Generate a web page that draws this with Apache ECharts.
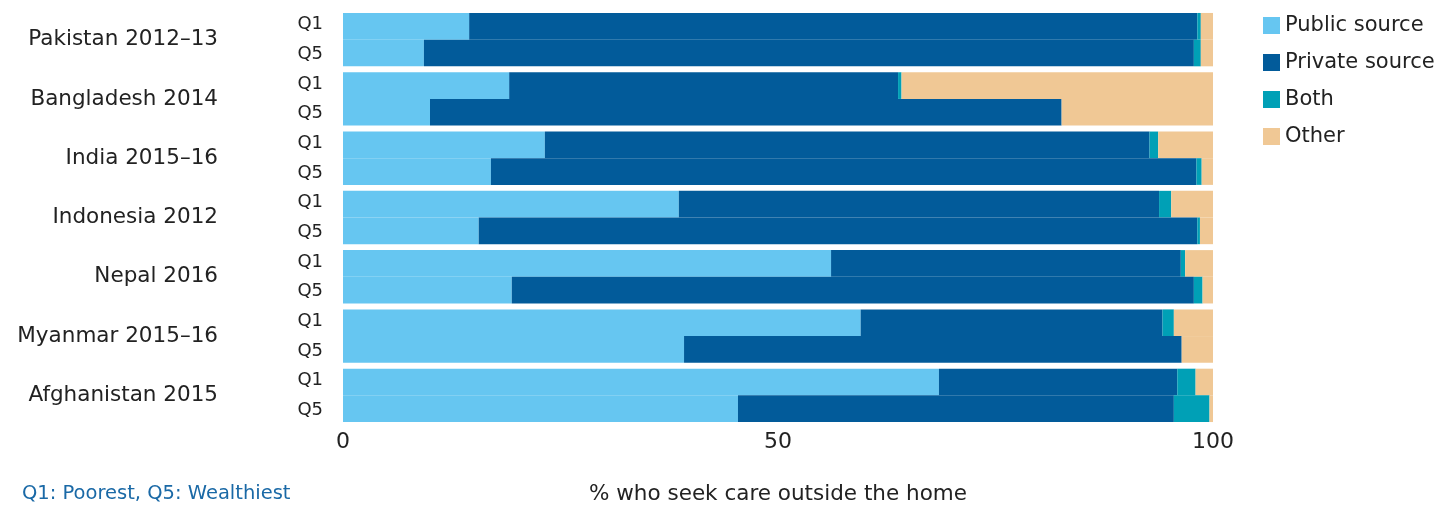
<!DOCTYPE html>
<html>
<head>
<meta charset="utf-8">
<script src="https://cdn.jsdelivr.net/npm/echarts@6/dist/echarts.min.js"></script>
<style>
  html, body { margin: 0; padding: 0; background: #fff; }
  #chart { width: 1441px; height: 506px; }
</style>
</head>
<body>
<div id="chart"></div>
<script>
// countries, top to bottom
const countries = ['Pakistan 2012–13', 'Bangladesh 2014', 'India 2015–16', 'Indonesia 2012',
  'Nepal 2016', 'Myanmar 2015–16', 'Afghanistan 2015'];
const quintiles = ['Q1', 'Q5'];

// % share by source, Q1 (poorest)
const publicQ1 = [14.5, 19.1, 23.2, 38.6, 56.1, 59.5, 68.5];
const privateQ1 = [83.7, 44.7, 69.5, 55.2, 40.2, 34.7, 27.4];
const bothQ1 = [0.4, 0.4, 1.0, 1.4, 0.5, 1.3, 2.1];
const otherQ1 = [1.4, 35.8, 6.3, 4.8, 3.2, 4.5, 2.0];

// % share by source, Q5 (wealthiest)
const publicQ5 = [9.3, 10.0, 17.0, 15.6, 19.4, 39.2, 45.4];
const privateQ5 = [88.5, 72.6, 81.1, 82.6, 78.4, 57.2, 50.1];
const bothQ5 = [0.8, 0, 0.6, 0.3, 1.0, 0, 4.1];
const otherQ5 = [1.4, 17.4, 1.3, 1.5, 1.2, 3.6, 0.4];

const xTicks = [0, 50, 100];

const sources = ['Public source', 'Private source', 'Both', 'Other'];
const colors = ['#66c6f1', '#025b9a', '#00a0b6', '#f0c895'];

const chart = echarts.init(document.getElementById('chart'));
const FONT = 'DejaVu Sans';

const q1Data = [publicQ1, privateQ1, bothQ1, otherQ1];
const q5Data = [publicQ5, privateQ5, bothQ5, otherQ5];

let series = [];
// Q1 bars (upper in each group)
sources.forEach((name, i) => {
    series.push({
        name: name,
        type: 'bar',
        stack: 'Q1',
        data: q1Data[i],
        itemStyle: {color: colors[i]},
        barGap: '0%',
        barCategoryGap: '10%'
    });
});
// Q5 bars (lower in each group)
sources.forEach((name, i) => {
    series.push({
        name: name,
        type: 'bar',
        stack: 'Q5',
        data: q5Data[i],
        itemStyle: {color: colors[i]},
        barGap: '0%',
        barCategoryGap: '10%'
    });
});

// Q1 / Q5 labels for each row
let qLabels = [];
countries.forEach(() => {
    quintiles.forEach(q => qLabels.push(q));
});

chart.setOption({
    animation: false,
    textStyle: {fontFamily: FONT},
    color: colors,
    legend: {
        orient: 'vertical',
        left: 1258,
        top: 10,
        itemWidth: 17,
        itemHeight: 17,
        itemGap: 16,
        icon: 'rect',
        data: sources,
        textStyle: {fontSize: 21, color: '#222', fontFamily: FONT}
    },
    grid: {
        left: 343,
        right: 228,
        top: 10,
        bottom: 81,
        outerBoundsMode: 'none'
    },
    xAxis: {
        type: 'value',
        min: xTicks[0],
        max: xTicks[xTicks.length - 1],
        interval: 50,
        axisLine: {show: false},
        axisTick: {show: false},
        splitLine: {show: false},
        axisLabel: {fontSize: 22, color: '#222', margin: 6, fontFamily: FONT},
        name: '% who seek care outside the home',
        nameLocation: 'middle',
        nameGap: 58,
        nameTextStyle: {fontSize: 21.5, color: '#222', fontFamily: FONT}
    },
    yAxis: [
        {
            type: 'category',
            data: countries,
            inverse: true,
            axisLine: {show: false},
            axisTick: {show: false},
            axisLabel: {fontSize: 21.5, color: '#222', margin: 125, fontFamily: FONT}
        },
        {
            type: 'category',
            data: qLabels,
            inverse: true,
            position: 'left',
            axisLine: {show: false},
            axisTick: {show: false},
            axisLabel: {fontSize: 18, color: '#222', margin: 20, fontFamily: FONT}
        }
    ],
    graphic: [{
        type: 'text',
        left: 22,
        top: 484,
        style: {
            text: 'Q1: Poorest, Q5: Wealthiest',
            fill: '#1a69a6',
            fontSize: 19.5,
            fontFamily: FONT
        }
    }],
    series: series
});
</script>
</body>
</html>
